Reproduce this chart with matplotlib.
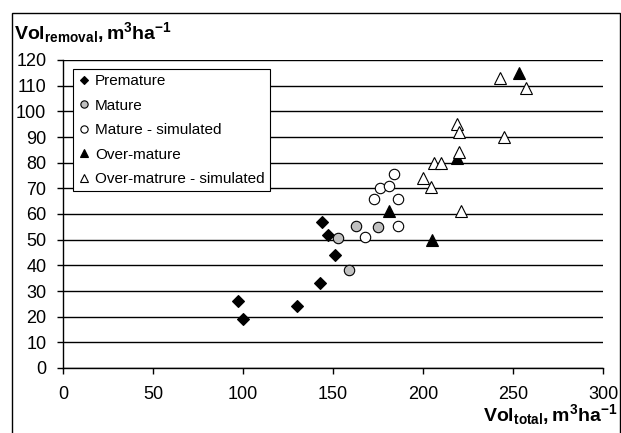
import matplotlib
matplotlib.use("Agg")
import matplotlib.pyplot as plt
from matplotlib.patches import Rectangle

plt.rcParams['font.family'] = ['Liberation Sans', 'DejaVu Sans']
plt.rcParams['mathtext.fontset'] = 'custom'
plt.rcParams['mathtext.rm'] = 'Liberation Sans:bold'
plt.rcParams['mathtext.bf'] = 'Liberation Sans:bold'
plt.rcParams['mathtext.it'] = 'Liberation Sans:bold'

# Data
premature_x = [97, 100, 130, 143, 144, 147, 151]
premature_y = [26, 19, 24, 33, 57, 52, 44]

mature_x = [153, 163, 175, 159]
mature_y = [50.5, 55.5, 55, 38]

mature_sim_x = [168, 186, 173, 176, 181, 184, 186]
mature_sim_y = [51, 55.5, 66, 70, 71, 75.5, 66]

over_x = [181, 205, 219, 253.5]
over_y = [61, 50, 82, 115]

over_sim_x = [243, 257, 219, 220, 245, 220, 206, 210, 200, 204.5, 221]
over_sim_y = [113, 109, 95, 92, 90, 84, 80, 80, 74, 70.5, 61]

series_labels = ['Premature', 'Mature', 'Mature - simulated', 'Over-mature',
                 'Over-matrure - simulated']

W, H = 621, 433
fig = plt.figure(figsize=(W / 100, H / 100), dpi=100)
ax = fig.add_axes([63 / W, (H - 368) / H, (603 - 63) / W, (368 - 60) / H])

ax.set_xlim(0, 300)
ax.set_ylim(0, 120)
ax.set_xticks(range(0, 301, 50))
ax.set_yticks(range(0, 121, 10))
ax.yaxis.grid(True, color='black', linewidth=1.0)
ax.set_axisbelow(True)
for s in ['top', 'right']:
    ax.spines[s].set_visible(False)
for s in ['left', 'bottom']:
    ax.spines[s].set_linewidth(1.0)
ax.tick_params(axis='both', labelsize=13, direction='out', length=4, width=1)
ax.tick_params(axis='y', pad=8)
ax.tick_params(axis='x', pad=9)

lw = 0.8
ax.plot(premature_x, premature_y, 'D', ms=6.2, mfc='black', mec='black',
        mew=lw, label=series_labels[0], clip_on=False, zorder=3)
ax.plot(mature_x, mature_y, 'o', ms=7.5, mfc='#c0c0c0', mec='black',
        mew=lw, label=series_labels[1], clip_on=False, zorder=3)
ax.plot(mature_sim_x, mature_sim_y, 'o', ms=7.5, mfc='white', mec='black',
        mew=lw, label=series_labels[2], clip_on=False, zorder=3)
ax.plot(over_x, over_y, '^', ms=8.5, mfc='black', mec='black',
        mew=lw, label=series_labels[3], clip_on=False, zorder=3)
ax.plot(over_sim_x, over_sim_y, '^', ms=8.5, mfc='white', mec='black',
        mew=lw, label=series_labels[4], clip_on=False, zorder=4)

leg = ax.legend(loc='upper left', bbox_to_anchor=((73 - 63) / 540, (368 - 69) / 308),
                fontsize=11, frameon=True, fancybox=False, edgecolor='black',
                framealpha=1, borderpad=0.35, labelspacing=0.68,
                handlelength=0.8, handletextpad=0.3, borderaxespad=0,
                markerscale=0.7)
leg.get_frame().set_linewidth(0.8)

fig.text(14 / W, 1 - 39 / H, r'$\mathrm{Vol_{removal}},\mathrm{m^{3}ha^{-1}}$',
         fontsize=14, ha='left', va='baseline')
fig.text(617 / W, 1 - 421 / H, r'$\mathrm{Vol_{total}},\mathrm{m^{3}ha^{-1}}$',
         fontsize=14, ha='right', va='baseline')

fig.patches.append(Rectangle((12 / W, -0.01), (620 - 12) / W, 1 - 13 / H + 0.01,
                             transform=fig.transFigure, fill=False,
                             edgecolor='black', linewidth=1.0))

fig.savefig('out.png', dpi=100)
